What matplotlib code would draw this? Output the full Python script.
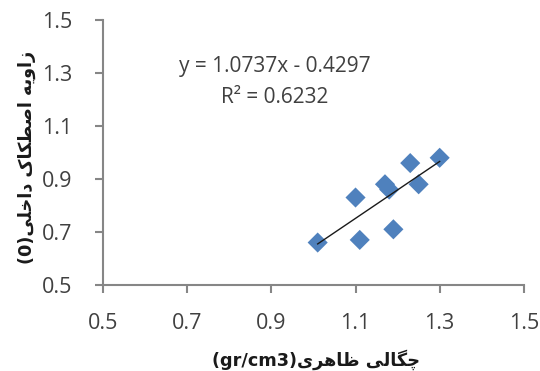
import matplotlib
matplotlib.use("Agg")
import matplotlib.pyplot as plt
import numpy as np

# bulk density vs internal friction angle
density = [1.01, 1.10, 1.11, 1.17, 1.18, 1.19, 1.23, 1.25, 1.30]
friction = [0.66, 0.83, 0.67, 0.88, 0.86, 0.71, 0.96, 0.88, 0.98]
slope, intercept, r2 = 1.0737, -0.4297, 0.6232
ticks = [0.5, 0.7, 0.9, 1.1, 1.3, 1.5]

# presentation forms: (isolated, final, initial, medial); None = does not join to the next letter
FORMS = {
    "ا": ("\uFE8D", "\uFE8E", None, None),
    "د": ("\uFEA9", "\uFEAA", None, None),
    "ر": ("\uFEAD", "\uFEAE", None, None),
    "ز": ("\uFEAF", "\uFEB0", None, None),
    "و": ("\uFEED", "\uFEEE", None, None),
    "ه": ("\uFEE9", "\uFEEA", "\uFEEB", "\uFEEC"),
    "ی": ("\uFBFC", "\uFBFD", "\uFBFE", "\uFBFF"),
    "خ": ("\uFEA5", "\uFEA6", "\uFEA7", "\uFEA8"),
    "ل": ("\uFEDD", "\uFEDE", "\uFEDF", "\uFEE0"),
    "ص": ("\uFEB9", "\uFEBA", "\uFEBB", "\uFEBC"),
    "ط": ("\uFEC1", "\uFEC2", "\uFEC3", "\uFEC4"),
    "ظ": ("\uFEC5", "\uFEC6", "\uFEC7", "\uFEC8"),
    "ک": ("\uFB8E", "\uFB8F", "\uFB90", "\uFB91"),
    "چ": ("\uFB7A", "\uFB7B", "\uFB7C", "\uFB7D"),
    "گ": ("\uFB92", "\uFB93", "\uFB94", "\uFB95"),
}


def shape(word):
    out = []
    for i, ch in enumerate(word):
        prev_joins = i > 0 and FORMS[word[i - 1]][2] is not None
        next_joins = i < len(word) - 1 and FORMS[ch][2] is not None
        iso, fin, ini, med = FORMS[ch]
        if prev_joins and next_joins:
            out.append(med)
        elif prev_joins:
            out.append(fin)
        elif next_joins:
            out.append(ini)
        else:
            out.append(iso)
    return "".join(reversed(out))


def rtl(text):
    return " ".join(shape(w) for w in reversed(text.split()))


xlabel = "(gr/cm3)" + rtl("چگالی ظاهری")
ylabel = "(0)" + rtl("زاویه اصطکاک داخلی")

fig = plt.figure(figsize=(5.4, 3.71), dpi=100)
ax = fig.add_axes([0.191, 0.232, 0.779, 0.714])

ax.scatter(density, friction, marker="D", s=105, color="#4F81BD", edgecolors="none",
           zorder=3)
xs = np.array([min(density), max(density)])
ax.plot(xs, slope * xs + intercept, color="#1a1a1a", lw=1.0, zorder=4)

ax.text(0.908, 1.323, f"y = {slope}x - {abs(intercept)}", ha="center", va="center",
        fontsize=15, color="#404040", family="Open Sans")
ax.text(0.908, 1.206, f"R² = {r2}", ha="center", va="center",
        fontsize=15, color="#404040", family="Open Sans")

ax.set_xlim(0.5, 1.5)
ax.set_ylim(0.5, 1.5)
ax.set_xticks(ticks)
ax.set_yticks(ticks)
ax.set_xticklabels([f"{t:.1f}" for t in ticks], family="Open Sans")
ax.set_yticklabels([f"{t:.1f}" for t in ticks], family="Open Sans")
ax.tick_params(axis="both", direction="out", length=6, width=1.5, color="#868686",
               labelsize=15.5, labelcolor="#404040")
ax.tick_params(axis="x", pad=14)
ax.tick_params(axis="y", pad=16)
for side in ("top", "right"):
    ax.spines[side].set_visible(False)
for side in ("left", "bottom"):
    ax.spines[side].set_color("#868686")
    ax.spines[side].set_linewidth(1.5)

fig.text(0.585, 0.03, xlabel, ha="center", va="center", fontsize=12.7,
         fontweight="bold", family="DejaVu Sans", color="#1a1a1a")
fig.text(0.05, 0.576, ylabel, ha="center", va="center", rotation=90,
         fontsize=12.7, fontweight="bold", family="DejaVu Sans", color="#1a1a1a")

fig.savefig("out.png", dpi=100)
